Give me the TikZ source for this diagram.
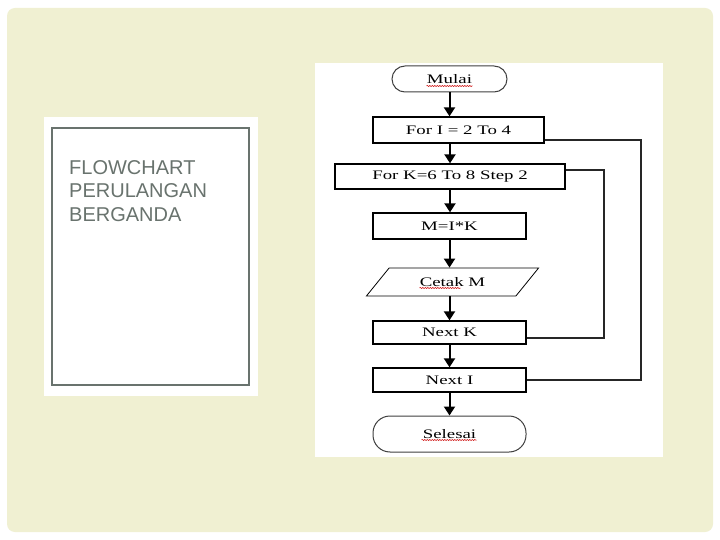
\documentclass[tikz,border=0pt]{standalone}
\usepackage{fontspec}
\setmainfont{Liberation Serif}
\newfontfamily\flowfont[FakeStretch=1.45]{Liberation Serif}
\newfontfamily\slidefont{Liberation Sans}
\usetikzlibrary{arrows.meta,shapes.geometric,decorations.pathmorphing}
\definecolor{cream}{RGB}{240,240,210}
\definecolor{slategrey}{RGB}{105,115,110}

\begin{document}
\begin{tikzpicture}[x=1pt, y=-1pt,
  font=\flowfont\fontsize{13}{15}\selectfont,
  process/.style={draw, rectangle, line width=1.3pt, minimum height=26pt, inner sep=0pt},
  terminal/.style={draw=black!75, rectangle, rounded corners=13pt, line width=1pt, inner sep=0pt},
  io/.style={draw, trapezium, trapezium left angle=38, trapezium right angle=142,
    trapezium stretches=true, line width=0.8pt, minimum width=173pt, minimum height=28pt, inner sep=0pt},
  flow/.style={-{Triangle[width=11pt,length=9pt]}, line width=2pt},
  loop/.style={line width=1.6pt, black!85},
  spell/.style={red!80!black, line width=0.5pt, decorate,
    decoration={snake, amplitude=0.6pt, segment length=2.5pt}}]
\useasboundingbox (0,0) rectangle (720,540);

% Slide background
\fill[white] (0,0) rectangle (720,540);
\fill[cream, rounded corners=8pt] (7,8) rectangle (713,532);

% Title panel
\fill[white] (44,117) rectangle (258,396);
\draw[slategrey, line width=1.5pt] (52,128) rectangle (249,385);
\node[anchor=north west, align=left, inner sep=0pt, text=slategrey,
  font=\slidefont\fontsize{20}{23.5}\selectfont] (title) at (69,160)
  {FLOWCHART\\PERULANGAN\\BERGANDA};

% Flowchart sheet
\fill[white] (315,63) rectangle (663,457);

% Start
\node[terminal, minimum width=115pt, minimum height=26pt] (mulai) at (449.5,79) {Mulai};

% Outer and inner loop heads
\node[process, minimum width=171pt] (forI) at (458.5,130) {For I = 2 To 4};
\node[process, minimum width=230pt, minimum height=25pt] (forK) at (450,176.5) {For K=6 To 8 Step 2};

% Body
\node[process, minimum width=153pt] (kali) at (449.5,226) {M=I*K};
\node[io] (cetak) at (452.5,282) {Cetak M};

% Loop ends
\node[process, minimum width=153pt, minimum height=23pt] (nextK) at (449.5,332.5) {Next K};
\node[process, minimum width=153pt, minimum height=24pt] (nextI) at (449.5,380) {Next I};

% End
\node[terminal, minimum width=153pt, minimum height=36pt, rounded corners=17pt] (selesai) at (449.5,434) {Selesai};

% Spelling marks
\draw[spell] ([shift={(-23pt,-7pt)}]mulai.center) -- ([shift={(23pt,-7pt)}]mulai.center);
\draw[spell] ([shift={(-33pt,-6pt)}]cetak.center) -- ([shift={(8pt,-6pt)}]cetak.center);
\draw[spell] ([shift={(-28pt,-6pt)}]selesai.center) -- ([shift={(27pt,-6pt)}]selesai.center);

% Arrows
\draw[flow] (mulai.south) -- (mulai.south |- forI.north);
\draw[flow] (forK.north |- forI.south) -- (forK.north);
\draw[flow] (forK.south) -- (forK.south |- kali.north);
\draw[flow] (kali.south) -- (kali.south |- cetak.north);
\draw[flow] (kali.south |- cetak.south) -- (nextK.north);
\draw[flow] (nextK.south) -- (nextI.north);
\draw[flow] (nextI.south) -- (selesai.north);

% Loop back lines
\coordinate (loopK) at (604,170);
\coordinate (loopI) at (641,140);
\draw[loop] ([yshift=6.5pt]forK.east) -- (loopK) |- ([yshift=-5.5pt]nextK.east);
\draw[loop] ([yshift=-10pt]forI.east) -- (loopI) |- (nextI.east);
\end{tikzpicture}
\end{document}
